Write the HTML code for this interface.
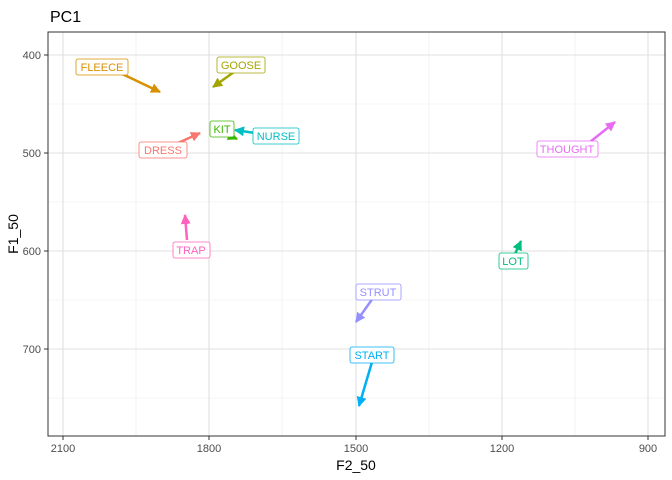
<!DOCTYPE html><html><head><style>body{margin:0;background:#fff}svg{display:block;font-family:"Liberation Sans",sans-serif}</style></head><body>
<svg width="672" height="480" viewBox="0 0 672 480">
<defs>
<marker id="a" viewBox="0 0 10 10" refX="9" refY="5" markerWidth="4" markerHeight="4" orient="auto"><path d="M0,0L10,5L0,10z" fill="context-stroke"/></marker>
</defs>
<text x="50" y="22" font-size="16">PC1</text>
<g stroke="#ebebeb" stroke-width="0.6">
<line x1="136" y1="32" x2="136" y2="436"/><line x1="282" y1="32" x2="282" y2="436"/><line x1="429" y1="32" x2="429" y2="436"/><line x1="575" y1="32" x2="575" y2="436"/>
<line x1="48" y1="104" x2="665" y2="104"/><line x1="48" y1="202" x2="665" y2="202"/><line x1="48" y1="300" x2="665" y2="300"/><line x1="48" y1="398" x2="665" y2="398"/>
</g>
<g stroke="#e0e0e0" stroke-width="1.1">
<line x1="63" y1="32" x2="63" y2="436"/><line x1="209" y1="32" x2="209" y2="436"/><line x1="356" y1="32" x2="356" y2="436"/><line x1="502" y1="32" x2="502" y2="436"/><line x1="648" y1="32" x2="648" y2="436"/>
<line x1="48" y1="55" x2="665" y2="55"/><line x1="48" y1="153" x2="665" y2="153"/><line x1="48" y1="251" x2="665" y2="251"/><line x1="48" y1="349" x2="665" y2="349"/>
</g>
<rect x="48" y="32" width="617" height="404" fill="none" stroke="#333" stroke-width="1"/>
<g stroke="#333"><line x1="63" y1="436" x2="63" y2="440"/><line x1="209" y1="436" x2="209" y2="440"/><line x1="356" y1="436" x2="356" y2="440"/><line x1="502" y1="436" x2="502" y2="440"/><line x1="648" y1="436" x2="648" y2="440"/>
<line x1="44" y1="55" x2="48" y2="55"/><line x1="44" y1="153" x2="48" y2="153"/><line x1="44" y1="251" x2="48" y2="251"/><line x1="44" y1="349" x2="48" y2="349"/></g>
<g font-size="11" fill="#4d4d4d" text-anchor="middle"><text x="63" y="452">2100</text><text x="209" y="452">1800</text><text x="356" y="452">1500</text><text x="502" y="452">1200</text><text x="648" y="452">900</text></g>
<g font-size="11" fill="#4d4d4d" text-anchor="end"><text x="41" y="59">400</text><text x="41" y="157">500</text><text x="41" y="255">600</text><text x="41" y="353">700</text></g>
<text x="356" y="470" font-size="14" text-anchor="middle">F2_50</text>
<text transform="translate(18,234) rotate(-90)" font-size="14" text-anchor="middle">F1_50</text>
<g stroke-width="2.5" fill="none" marker-end="url(#a)">
<line x1="118" y1="72" x2="160" y2="92" stroke="#D89000"/>
<line x1="234" y1="72" x2="213" y2="87" stroke="#A3A500"/>
<line x1="178" y1="143" x2="200" y2="133" stroke="#F8766D"/>
<line x1="226" y1="134" x2="237" y2="139" stroke="#39B600"/>
<line x1="255" y1="133" x2="235" y2="130" stroke="#00BFC4"/>
<line x1="590" y1="142" x2="615" y2="122" stroke="#E76BF3"/>
<line x1="187" y1="240" x2="185" y2="215" stroke="#FF62BC"/>
<line x1="515" y1="254" x2="521" y2="241" stroke="#00BF7D"/>
<line x1="373" y1="298" x2="356" y2="322" stroke="#9590FF"/>
<line x1="372" y1="362" x2="359" y2="406" stroke="#00B0F6"/>
</g>
<g font-size="11" text-anchor="middle">
<g fill="#fff" stroke-width="0.8">
<rect x="76" y="59" width="52" height="16" rx="2" stroke="#D89000"/>
<rect x="217" y="57" width="48" height="16" rx="2" stroke="#A3A500"/>
<rect x="139" y="142" width="48" height="16" rx="2" stroke="#F8766D"/>
<rect x="210" y="121" width="24" height="16" rx="2" stroke="#39B600"/>
<rect x="253" y="128" width="46" height="16" rx="2" stroke="#00BFC4"/>
<rect x="537" y="141" width="61" height="16" rx="2" stroke="#E76BF3"/>
<rect x="173" y="242" width="37" height="16" rx="2" stroke="#FF62BC"/>
<rect x="499" y="253" width="29" height="16" rx="2" stroke="#00BF7D"/>
<rect x="356" y="284" width="45" height="16" rx="2" stroke="#9590FF"/>
<rect x="350" y="347" width="44" height="16" rx="2" stroke="#00B0F6"/>
</g>
<text x="102" y="71" fill="#D89000">FLEECE</text>
<text x="241" y="69" fill="#A3A500">GOOSE</text>
<text x="163" y="154" fill="#F8766D">DRESS</text>
<text x="222" y="133" fill="#39B600">KIT</text>
<text x="276" y="140" fill="#00BFC4">NURSE</text>
<text x="567" y="153" fill="#E76BF3">THOUGHT</text>
<text x="191" y="254" fill="#FF62BC">TRAP</text>
<text x="513" y="265" fill="#00BF7D">LOT</text>
<text x="378" y="296" fill="#9590FF">STRUT</text>
<text x="372" y="359" fill="#00B0F6">START</text>
</g>
</svg></body></html>
